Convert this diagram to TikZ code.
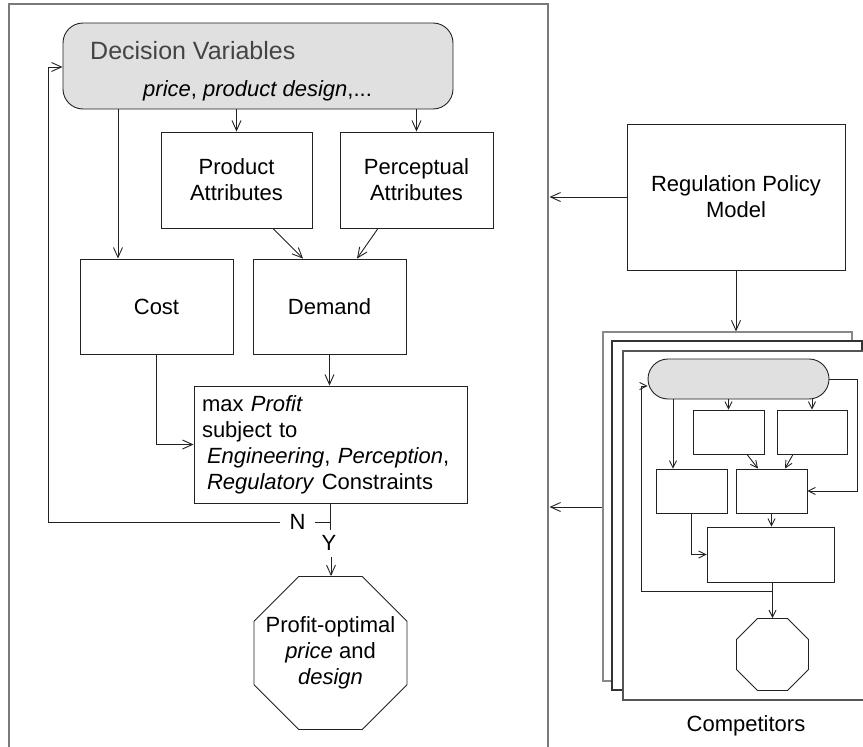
\documentclass[tikz,border=0pt]{standalone}
\usepackage{fontspec}
\setmainfont{Liberation Sans}
\usetikzlibrary{arrows.meta,shapes.geometric,calc}
\definecolor{dvfill}{HTML}{E0E0E0}
\definecolor{framegray}{HTML}{7A7A7A}
\definecolor{linec}{HTML}{222222}
\definecolor{titlegray}{HTML}{444444}
\definecolor{stkA}{HTML}{888888}
\definecolor{stkB}{HTML}{333333}
\definecolor{stkC}{HTML}{555555}
\begin{document}
\begin{tikzpicture}[x=1pt,y=-1pt,
  every node/.style={font=\fontsize{22}{26}\selectfont, text=black},
  box/.style={draw=linec, line width=0.9pt, fill=white, inner sep=0pt, align=center},
  conn/.style={draw=linec, line width=0.9pt},
  arr/.style={conn, -{Straight Barb[length=10pt,width=9pt]}},
  marr/.style={conn, -{Straight Barb[length=7pt,width=7pt]}},
  frame/.style={draw=framegray, line width=1.2pt},
  stk/.style={fill=white, line width=1.1pt, inner sep=0pt},
]
\useasboundingbox (0,0) rectangle (863,747);

% outer frame of the firm model
\draw[frame] (9,747) -- (9,4) -- (548,4) -- (548,747);

% main diagram
\node[box, fill=dvfill, rounded corners=20pt, minimum width=390pt, minimum height=86pt] (dv) at (258,66) {};
\node[anchor=base west, inner sep=0pt, font=\fontsize{25}{29}\selectfont, text=titlegray] (dvt) at (90,59) {Decision Variables};
\node[anchor=base west, inner sep=0pt] (dvs) at (143,96) {\textit{price}, \textit{product design},...};

\node[box, minimum width=151pt, minimum height=96pt] (prod) at (236.5,180) {Product\\Attributes};
\node[box, minimum width=153pt, minimum height=96pt] (perc) at (416.5,180) {Perceptual\\Attributes};
\node[box, minimum width=153pt, minimum height=95pt] (cost) at (156.5,306.5) {Cost};
\node[box, minimum width=153pt, minimum height=95pt] (dem) at (329.5,306.5) {Demand};
\node[box, minimum width=273pt, minimum height=117pt, text width=257pt, align=left] (max) at (330.5,444.5)
  {max \textit{Profit}\\subject to\\\hspace*{5pt}\textit{Engineering}, \textit{Perception},\\\hspace*{5pt}\textit{Regulatory} Constraints};
\node[box, regular polygon, regular polygon sides=8, minimum size=165.6pt] (opt) at (330.5,653) {};
\node[align=center, inner sep=0pt] (optt) at (opt.center) {Profit-optimal\\\textit{price} and\\\textit{design}};

\coordinate (cx) at (118,0);
\draw[arr] (dv.south -| cx) -- (cost.north -| cx);
\draw[arr] (dv.south -| prod) -- (prod.north);
\draw[arr] (dv.south -| perc) -- (perc.north);
\draw[arr] ([xshift=36.5pt]prod.south) -- ([xshift=-26.5pt]dem.north);
\draw[arr] ([xshift=-38.5pt]perc.south) -- ([xshift=27.5pt]dem.north);
\draw[arr] (dem.south) -- (dem.south |- max.north);
\draw[arr] (cost.south) |- (max.west);

\coordinate (stem) at (330,530);
\draw[conn] (max.south -| stem) -- (stem);
\node[inner sep=0pt, minimum width=35pt] (N) at (297.5,522) {N};
\draw[conn] (N.east) -- (N.east -| stem);
\coordinate (lp) at (48,67);
\draw[arr] (N.west) -| (lp) -- (dv.west |- lp);
\node[inner sep=0pt] (Y) at (329,543) {Y};
\coordinate (ys) at (331,557);
\draw[arr] (ys) -- (ys |- opt.north);

% regulation policy model
\node[box, minimum width=218pt, minimum height=146pt] (rpm) at (736,197) {Regulation Policy\\Model};

% competitors stack
\node[stk, draw=stkA, minimum width=249pt, minimum height=349pt] (c1) at (727.5,506.5) {};
\node[stk, draw=stkB, minimum width=250pt, minimum height=349pt] (c2) at (737,515.5) {};
\node[stk, draw=stkC, minimum width=260pt, minimum height=349pt] (c3) at (753,525.5) {};

\coordinate (fr1) at (549.5,197);
\coordinate (fr2) at (549.5,507);
\draw[arr] (rpm.west) -- (fr1);
\draw[arr] (rpm.south) -- (rpm.south |- c1.north);
\draw[arr] (c1.west |- fr2) -- (fr2);

% miniature model inside competitors
\node[box, fill=dvfill, rounded corners=20pt, minimum width=181pt, minimum height=40pt] (mdv) at (738.5,379) {};
\node[box, minimum width=71pt, minimum height=44pt] (mprod) at (728.5,432) {};
\node[box, minimum width=70pt, minimum height=44pt] (mperc) at (812,432) {};
\node[box, minimum width=71pt, minimum height=44pt] (mcost) at (691.5,491) {};
\node[box, minimum width=71pt, minimum height=44pt] (mdem) at (771.5,491) {};
\node[box, minimum width=127pt, minimum height=55pt] (mmax) at (770.5,554.5) {};
\node[box, regular polygon, regular polygon sides=8, minimum size=78pt] (moct) at (772.5,654.5) {};

\coordinate (mcx) at (673,0);
\draw[marr] (mdv.south -| mcx) -- (mcost.north -| mcx);
\draw[marr] (mdv.south -| mprod) -- (mprod.north);
\draw[marr] (mdv.south -| mperc) -- (mperc.north);
\draw[marr] ([xshift=18.5pt]mprod.south) -- ([xshift=-13.5pt]mdem.north);
\draw[marr] ([xshift=-19pt]mperc.south) -- ([xshift=13.5pt]mdem.north);
\draw[marr] (mdem.south) -- (mdem.south |- mmax.north);
\draw[marr] (mcost.south) |- (mmax.west);
\draw[marr] (mmax.south -| moct) -- (moct.north);
\coordinate (mbr) at (772.5,591);
\coordinate (mlp) at (641,386);
\draw[marr] (mbr) -| (mlp) -- (mlp -| mdv.west);
\draw[marr] (mdv.east) -- ++(28,0) |- (mdem.east);

\node (comp) at (746,726) {Competitors};
\end{tikzpicture}
\end{document}
